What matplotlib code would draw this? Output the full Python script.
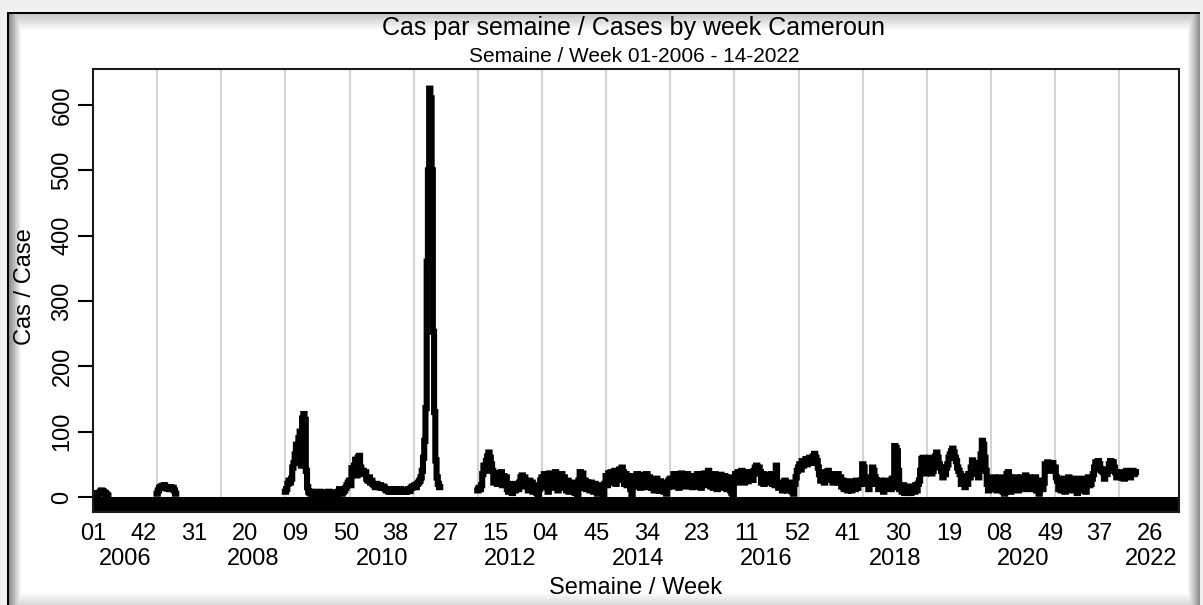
import numpy as np
import matplotlib
matplotlib.use("Agg")
import matplotlib.pyplot as plt
from matplotlib.ticker import FixedLocator

plt.rcParams["font.family"] = ["Liberation Sans", "DejaVu Sans"]

# weekly cases, each list starts at week 01 of its year (missing weeks are gaps)
cases_2006 = [4, 3, 5, 4, 6, 5, 8, 10, 9, 7, 6, 4, 2]
cases_2007 = [5, 10, 14, 15, 17, 16, 18, 15, 13, 14, 12, 15, 13, 14, 10, 5]
cases_2009 = [8, 12, 20, 25, 22, 28, 45, 52, 65, 80, 75, 90, 100, 48, 120, 127, 118, 40, 15, 8,
              6, 5, 8, 6, 4, 7, 5, 6, 8, 5, 6, 4, 7, 5, 6, 8, 5, 6, 7, 5, 4, 6, 5, 8,
              12, 6, 5, 8, 10, 14, 18, 22]
cases_2010 = [25, 18, 44, 40, 48, 57, 33, 60, 63, 45, 38, 40, 35, 38, 28, 25, 30, 22, 25,
              20, 18, 15, 20, 17, 15, 18, 14, 16, 15, 12,
              10, 12, 8, 11, 9, 12, 10, 8, 11, 9, 10, 12, 8, 10, 9, 11, 8, 10, 12, 9, 14, 16]
cases_2011 = [15, 18, 15, 20, 22, 25, 30, 40, 60, 86, 136, 360, 500, 625, 610, 500, 253, 130,
              56, 30, 20, 15]
cases_2012 = [10, 14, 12, 18, 35, 48, 40, 55, 62, 68, 60, 50, 40, 22, 36,
              35, 20, 22, 34, 38, 18, 32, 25, 30, 12, 8, 20, 10, 6, 18, 10, 12, 20, 12, 22, 30,
              33, 20, 30, 16, 20, 10, 25, 12, 22, 8, 18, 10, 6, 3, 12, 25]
cases_2013 = [30, 15, 35, 20, 32, 8, 36, 18, 25, 34, 14, 38, 20, 10, 32, 18, 35, 15, 30,
              14, 10, 25, 8, 18, 22, 10, 20, 6, 16, 3, 25, 38, 20, 36, 14, 25, 12, 22,
              16, 10, 22, 12, 8, 20, 10, 5, 18, 10, 8, 6, 3, 20]
cases_2014 = [32, 18, 36, 22, 38, 24, 25, 40, 20, 30, 38, 42, 26, 45, 38, 20, 35, 18, 32, 25, 12,
              2, 30, 16, 32, 35, 18, 30, 14, 34, 16, 30, 20, 35, 15, 30, 18,
              14, 25, 10, 22, 28, 12, 10, 24, 10, 22, 8, 20, 5, 15, 25]
cases_2015 = [28, 16, 25, 35, 18, 22, 34, 14, 30, 36, 18, 32, 16, 30, 35, 18, 22, 30,
              15, 32, 20, 28, 35, 16, 30, 14, 34, 20, 36, 30, 18, 40, 32, 16, 30, 14, 35, 20,
              12, 30, 18, 34, 14, 28, 32, 16, 12, 30, 16, 10, 6, 2]
cases_2016 = [28, 35, 22, 38, 30, 24, 40, 34, 22, 38, 35, 24, 36, 30, 38, 26, 40,
              45, 48, 36, 45, 38, 22, 35, 20, 32, 25, 34, 22, 26, 35, 20, 30, 18, 48,
              20, 14, 18, 22, 10, 20, 25, 12, 10, 22, 12, 20, 8, 5, 20, 30, 40]
cases_2017 = [45, 50, 42, 55, 48, 52, 58, 50, 55, 60, 52, 58, 62, 66, 60, 55,
              45, 35, 25, 38, 32, 22, 36, 30, 40, 26, 30, 35, 22, 32, 25, 30, 35, 22, 30,
              16, 25, 12, 22, 15, 10, 24, 18, 10, 22, 20, 12, 25, 14, 22, 20, 25]
cases_2018 = [50, 45, 30, 20, 25, 12, 22, 20, 45, 40, 30, 25,
              20, 12, 25, 18, 22, 8, 20, 25, 14, 15, 22, 12, 28, 15, 78, 75, 70, 40,
              12, 15, 8, 18, 6, 14, 10, 8, 16, 6, 12, 15, 8, 18, 10, 20, 25, 40, 58, 60, 50, 36]
cases_2019 = [40, 55, 60, 52, 36, 40, 55, 62, 68, 60, 50, 45, 40, 30, 42, 35, 45, 50,
              60, 65, 70, 74, 68, 60, 55, 45, 40, 35, 20, 22, 30, 15, 32, 20, 35, 30,
              45, 56, 50, 52, 40, 35, 30, 45, 65, 86, 80, 60, 40, 20, 10, 22]
cases_2020 = [25, 12, 30, 16, 28, 10, 22, 30, 12, 25, 8, 5, 28, 35, 38, 30, 8, 20,
              25, 12, 30, 18, 10, 20, 28, 30, 20, 12, 33, 28, 15, 30, 25,
              12, 25, 15, 30, 10, 22, 5, 18, 25, 12, 22, 50, 45, 53, 48, 40, 50, 52, 45]
cases_2021 = [45, 30, 25, 12, 22, 10, 28, 20, 8, 25, 12, 30, 22, 10, 20, 28, 12,
              25, 6, 22, 10, 28, 20, 25, 12, 8, 22, 30, 18, 20, 28, 35, 45,
              53, 48, 55, 50, 42, 40, 38, 28, 42, 35, 40, 50, 55, 48, 53, 45, 38, 30, 35]
cases_2022 = [32, 38, 30, 35, 28, 36, 40, 33, 38, 30, 36, 40, 35, 38]

cases_by_year = {2006: cases_2006, 2007: cases_2007, 2009: cases_2009, 2010: cases_2010,
                 2011: cases_2011, 2012: cases_2012, 2013: cases_2013, 2014: cases_2014,
                 2015: cases_2015, 2016: cases_2016, 2017: cases_2017, 2018: cases_2018,
                 2019: cases_2019, 2020: cases_2020, 2021: cases_2021, 2022: cases_2022}

tick_weeks = ["01", "42", "31", "20", "09", "50", "38", "27", "15", "04", "45",
              "34", "23", "11", "52", "41", "30", "19", "08", "49", "37", "26"]
tick_years = [2006, 2006, 2007, 2008, 2009, 2009, 2010, 2011, 2012, 2013, 2013,
              2014, 2015, 2016, 2016, 2017, 2018, 2019, 2020, 2020, 2021, 2022]
year_labels = [2006, 2008, 2010, 2012, 2014, 2016, 2018, 2020, 2022]

# weekly grid with gaps where no data
years = np.arange(2006, 2023)
x = (years[:, None] + np.arange(52)[None, :] / 52.0).ravel()
y = np.full(x.shape, np.nan)
for yr, vals in cases_by_year.items():
    i0 = (yr - 2006) * 52
    y[i0:i0 + len(vals)] = vals[:52]

W, H = 1203, 605
fig = plt.figure(figsize=(W / 100, H / 100), dpi=100)

# window-like frame with inner shadow
bg = fig.add_axes([0, 0, 1, 1], zorder=0)
bg.axis("off")
img = np.full((H, W), 0.94)
img[12:, 7:1200] = 1.0
panel = img[12:, 7:1200]
t = np.arange(16)
panel[2 + t, :] = np.minimum(panel[2 + t, :], (0.78 + 0.22 * t / 16)[:, None])
t = np.arange(12)
panel[:, 2 + t] = np.minimum(panel[:, 2 + t], (0.55 + 0.45 * t / 12)[None, :])
panel[:, -1 - t] = np.minimum(panel[:, -1 - t], (0.55 + 0.45 * t / 12)[None, :])
panel[-1 - t, :] = np.minimum(panel[-1 - t, :], (0.85 + 0.15 * t / 12)[:, None])
panel[0:2, :] = 0.0
panel[:, 0:2] = 0.0
bg.imshow(img, cmap="gray", vmin=0, vmax=1, aspect="auto", interpolation="nearest")

ax = fig.add_axes([93 / W, (H - 512) / H, (1179 - 93) / W, (512 - 69) / H], zorder=1)
ax.set_facecolor("white")
ax.set_axisbelow(True)

ymin, ymax = -23, 655
ax.axhspan(ymin, 0, color="black", lw=0)
ax.plot(x, y, color="black", lw=4.4, drawstyle="steps-mid",
        solid_joinstyle="miter", solid_capstyle="projecting")

ax.set_xlim(2006.0, 2022.93)
ax.set_ylim(ymin, ymax)

tick_pos = [yr + (int(wk) - 1) / 52.0 for wk, yr in zip(tick_weeks, tick_years)]
ax.set_xticks(tick_pos, labels=tick_weeks)
ax.xaxis.set_minor_locator(FixedLocator(np.arange(2007, 2023)))
ax.grid(which="minor", axis="x", color="#d4d4d4", lw=1.5)
ax.tick_params(axis="x", which="both", length=0, pad=8, labelsize=17)

ax.set_yticks(range(0, 700, 100))
ax.tick_params(axis="y", length=11, width=1.5, pad=3, labelsize=17, labelrotation=90)
for lab in ax.get_yticklabels():
    lab.set_va("center")

for yr in year_labels:
    ax.text(yr + 0.5, -0.082, str(yr), transform=ax.get_xaxis_transform(),
            ha="center", va="top", fontsize=17)

for s in ax.spines.values():
    s.set_color("#1a1a1a")
    s.set_linewidth(1.5)

fig.text(634 / W, 1 - 28 / H, "Cas par semaine / Cases by week Cameroun",
         ha="center", va="center", fontsize=18)
fig.text(634 / W, 1 - 57 / H, "Semaine / Week 01-2006 - 14-2022",
         ha="center", va="center", fontsize=15)
fig.text(636 / W, 1 - 577 / H, "Semaine / Week", ha="center", va="top", fontsize=17)
fig.text(25 / W, 1 - 287 / H, "Cas / Case", rotation=90, ha="center", va="center", fontsize=17)

fig.savefig("out.png", dpi=100)
